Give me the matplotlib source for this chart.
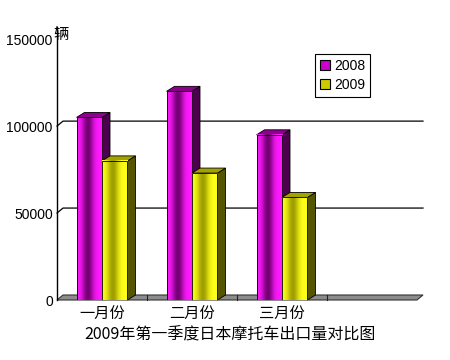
import matplotlib
matplotlib.use("Agg")
import matplotlib.pyplot as plt
import numpy as np
from matplotlib.patches import Polygon, Rectangle, Patch

plt.rcParams['font.family'] = ['Liberation Sans', 'Noto Sans CJK SC', 'DejaVu Sans']

categories = ['一月份', '二月份', '三月份', '']
series_names = ['2008', '2009']
v2008 = [105000, 120000, 95000]
v2009 = [80000, 73000, 59000]
yticks = [0, 50000, 100000, 150000]
ytick_labels = ['0', '50000', '100000', '150000']
unit_label = '辆'
title = '2009年第一季度日本摩托车出口量对比图'

fig = plt.figure(figsize=(4.5, 3.6), dpi=100)
ax = fig.add_axes([57/450, 60/360, 360/450, 273/360])
nslot = len(categories)
ax.set_xlim(0, nslot)
ymax = 157000
ax.set_ylim(0, ymax)

# pixel helpers -> data offsets
px_x = nslot / 360.0
px_y = ymax / 273.0
wdx, wdy = 6 * px_x, 5 * px_y      # wall depth
bdx, bdy = 8 * px_x, 5 * px_y      # bar depth

for s in ['top', 'right', 'bottom']:
    ax.spines[s].set_visible(False)
ax.spines['left'].set_linewidth(1.0)
ax.set_yticks(yticks)
ax.set_yticklabels(ytick_labels, fontsize=10)
ax.tick_params(axis='y', length=0, pad=3)
ax.set_xticks(np.arange(3) + 0.5)
ax.set_xticklabels(categories[:3], fontsize=11, family=['Noto Sans CJK SC'])
ax.tick_params(axis='x', length=0, pad=4)

# gridlines on back wall with slanted ticks
for v in yticks[1:3]:
    ax.plot([0, wdx, nslot + wdx], [v, v + wdy, v + wdy], color='black', lw=0.9, clip_on=False, zorder=1)

# floor
floor = Polygon([[0, 0], [nslot, 0], [nslot + wdx, wdy], [wdx, wdy]], closed=True,
                facecolor='#8c8c8c', edgecolor='#333333', lw=0.8, clip_on=False, zorder=2)
ax.add_patch(floor)
for i in range(1, nslot):
    ax.plot([i, i], [0, wdy], color='#222222', lw=0.8, clip_on=False, zorder=2)

bw = 0.283
styles = [
    dict(bright=np.array([1.0, 0.1, 1.0]), dark=np.array([0.45, 0.0, 0.45]),
         side='#4d004d', top='#8f008f'),
    dict(bright=np.array([1.0, 1.0, 0.1]), dark=np.array([0.62, 0.62, 0.0]),
         side='#555500', top='#a3a300'),
]

t = np.linspace(0, 1, 64)
prof = np.exp(-((t - 0.42) / 0.22) ** 2)

def grad(st):
    c = st['bright'][None, :] * (1 - prof[:, None]) + st['dark'][None, :] * prof[:, None]
    return np.clip(c[None, :, :], 0, 1)

for i in range(3):
    for j, vals in enumerate([v2008, v2009]):
        v = vals[i]
        st = styles[j]
        x0 = i + 0.5 - bw + j * bw
        x1 = x0 + bw
        z = 3 + i * 2 + j
        side = Polygon([[x1, 0], [x1 + bdx, bdy], [x1 + bdx, v + bdy], [x1, v]], closed=True,
                       facecolor=st['side'], edgecolor='black', lw=0.6, zorder=z, clip_on=False)
        top = Polygon([[x0, v], [x0 + bdx, v + bdy], [x1 + bdx, v + bdy], [x1, v]], closed=True,
                      facecolor=st['top'], edgecolor='black', lw=0.6, zorder=z, clip_on=False)
        ax.add_patch(side)
        ax.add_patch(top)
        ax.imshow(grad(st), extent=(x0, x1, 0, v), aspect='auto', zorder=z, interpolation='bilinear')
        ax.add_patch(Rectangle((x0, 0), bw, v, fill=False, edgecolor='black', lw=0.6, zorder=z))

ax.set_xlim(0, nslot)
ax.set_ylim(0, ymax)

ax.text(4 * px_x, (300 - 34) * px_y, unit_label, fontsize=11, ha='center', va='center',
        family=['Noto Sans CJK SC'], zorder=20)

handles = [Patch(facecolor='#cc00cc', edgecolor='black', lw=0.8),
           Patch(facecolor='#cccc00', edgecolor='black', lw=0.8)]
leg = ax.legend(handles, series_names, loc='upper left', bbox_to_anchor=((315 - 57) / 360, (300 - 54) / 273),
                fontsize=10, frameon=True, fancybox=False, edgecolor='black', framealpha=1,
                handlelength=0.7, handleheight=0.8, handletextpad=0.3, borderpad=0.35,
                labelspacing=0.35, borderaxespad=0)
leg.get_frame().set_linewidth(0.8)
leg.set_zorder(30)

fig.text(230 / 450, 1 - 335 / 360, title, fontsize=11.5, ha='center', va='center',
         family=['Noto Sans CJK SC', 'Liberation Sans'])

fig.savefig('out.png', dpi=100, facecolor='white')
